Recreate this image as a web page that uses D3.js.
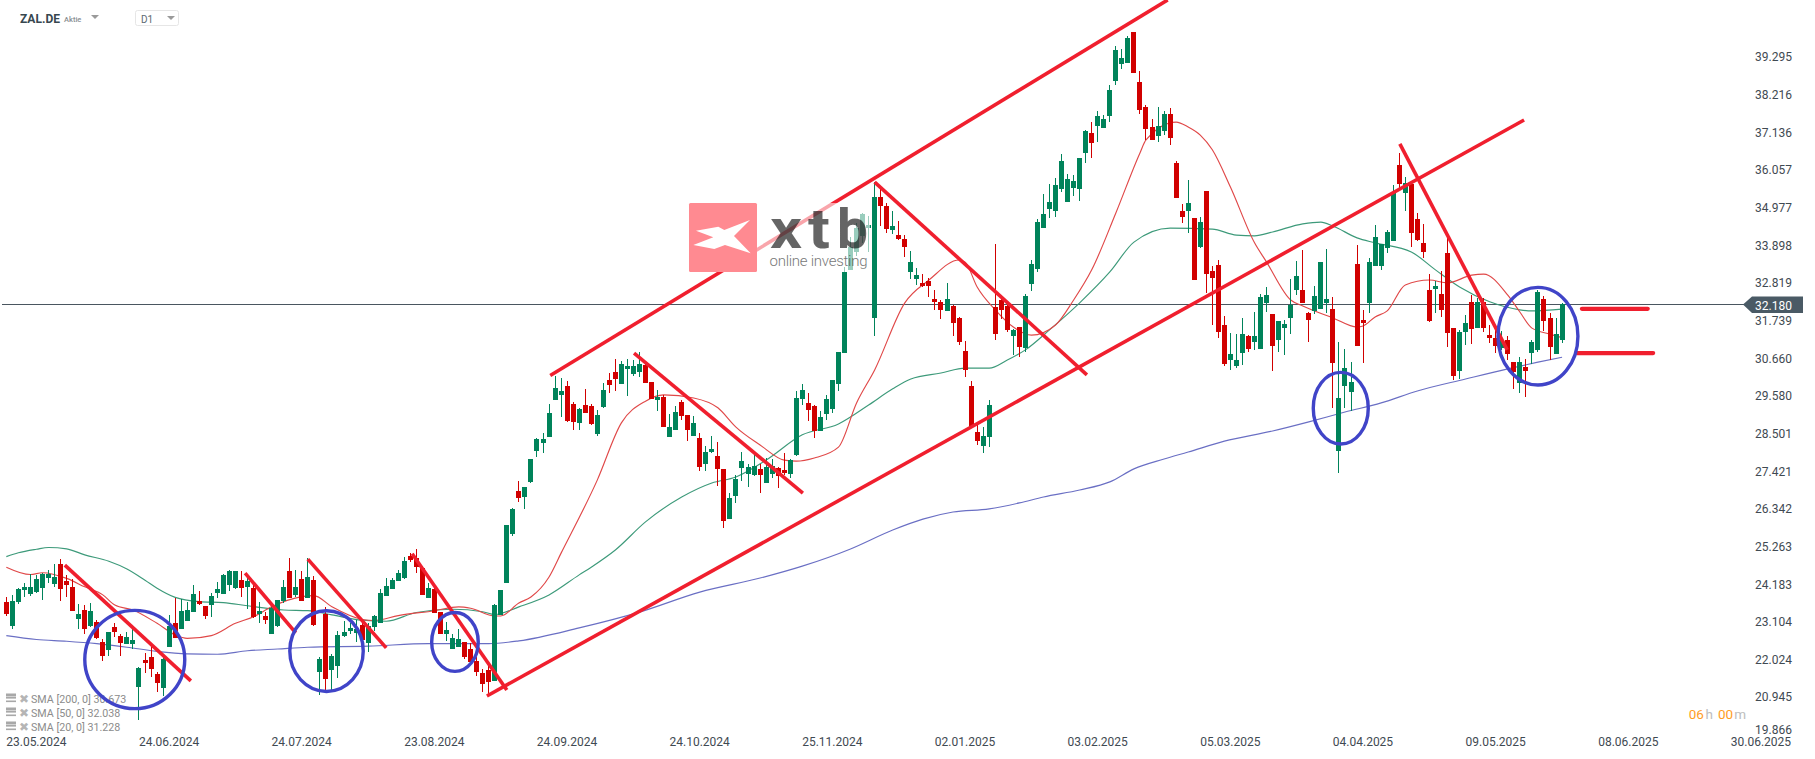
<!DOCTYPE html>
<html><head><meta charset="utf-8">
<script src="https://cdn.jsdelivr.net/npm/d3@7/dist/d3.min.js"></script>
<style>html,body{margin:0;padding:0;background:#fff;overflow:hidden}svg{display:block}text{font-family:Roboto,sans-serif}</style>
</head><body><svg id="c" width="1815" height="759"></svg>
<script>
const opens=[23.69,23.01,23.71,24.04,23.92,23.99,24.10,24.39,24.21,24.78,
24.30,24.12,23.21,23.47,23.01,23.13,22.56,22.33,22.98,22.73,
22.50,22.50,21.27,22.04,22.13,21.64,21.25,22.41,23.09,22.93,
23.17,23.41,23.73,23.58,23.61,23.95,23.92,24.18,24.10,24.32,
24.12,24.10,23.36,23.30,22.79,23.01,23.73,24.58,23.90,24.35,
23.81,24.32,21.70,23.36,21.76,21.87,22.73,22.87,22.82,23.04,
22.53,22.98,23.10,23.87,24.07,24.30,24.38,25.01,24.95,24.67,
23.81,24.07,23.41,22.79,22.36,22.41,22.56,22.36,22.02,21.67,
21.76,21.45,23.33,24.25,25.63,26.86,26.69,27.12,28.00,28.23,
28.40,29.45,29.60,29.85,29.34,28.80,29.31,29.28,28.48,29.25,
30.02,30.25,29.91,30.34,30.19,30.25,30.45,29.97,29.45,29.54,
28.40,28.60,29.40,29.03,28.43,28.37,27.63,27.97,27.86,27.49,
26.06,26.72,27.51,27.34,27.32,27.49,27.09,27.34,27.51,27.46,
27.34,27.89,29.48,29.37,29.28,28.57,29.05,29.20,29.91,30.80,
33.16,33.68,34.12,34.36,31.80,35.24,34.98,34.30,34.15,34.04,
33.10,32.90,32.79,32.84,32.33,32.24,31.99,32.13,31.79,30.85,
29.85,28.54,28.14,28.40,32.10,32.30,32.13,31.27,31.53,30.93,
32.76,33.19,34.35,34.89,34.84,35.46,35.09,35.49,35.46,36.49,
37.06,37.26,37.20,37.54,38.54,39.03,39.05,39.94,38.51,37.80,
37.23,36.97,37.12,37.60,36.20,34.84,34.84,34.64,33.81,35.41,
33.13,33.30,31.59,30.59,30.42,30.79,31.28,31.10,30.91,32.22,
31.90,31.16,31.50,31.79,32.59,32.59,31.93,31.99,32.05,32.22,
32.05,28.00,29.85,29.68,33.33,31.73,32.21,33.27,33.27,33.78,
33.98,36.15,35.35,35.61,34.61,33.92,32.59,32.61,32.47,33.64,
31.50,30.28,31.39,32.24,31.50,32.24,31.30,31.22,30.93,31.16,
30.53,29.94,30.39,30.79,30.87,32.33,31.79,30.76,31.16];
const highs=[23.85,23.90,24.11,24.23,24.49,24.47,24.53,24.61,24.78,24.91,
24.47,24.34,23.64,23.61,23.68,23.18,22.65,22.85,23.09,22.80,
22.85,22.94,21.85,22.25,22.47,21.71,22.09,23.34,23.80,23.78,
23.70,24.17,24.01,23.59,23.94,24.27,24.49,24.61,24.59,24.58,
24.37,24.18,23.71,23.42,23.58,23.75,24.32,24.94,24.61,24.59,
24.94,24.44,22.14,23.55,22.23,22.87,23.16,23.09,23.18,23.18,
23.09,23.34,24.06,24.37,24.37,24.61,24.99,25.08,25.21,24.72,
24.23,24.13,23.41,23.12,22.79,22.93,22.57,22.52,22.14,21.78,
21.90,23.64,24.04,25.89,26.37,27.14,26.97,27.77,28.36,28.50,
29.34,30.14,30.08,29.99,29.40,29.22,29.77,29.34,29.17,29.94,
30.22,30.62,30.56,30.62,30.59,30.82,30.48,29.97,29.74,29.60,
29.05,29.28,29.45,29.03,29.00,28.50,28.14,28.43,28.26,27.49,
26.79,27.32,27.97,27.63,27.91,27.63,27.80,27.77,27.55,27.94,
27.77,29.71,29.91,29.65,29.31,29.14,29.60,30.02,30.82,33.23,
34.11,34.49,34.77,34.68,35.67,35.48,35.06,34.84,34.55,34.15,
33.70,33.21,33.04,32.92,32.59,32.30,32.79,32.16,31.82,31.13,
30.00,28.73,28.68,29.45,33.90,32.35,32.21,31.47,31.54,32.47,
33.44,34.60,35.32,35.61,35.78,36.46,35.89,35.86,36.35,37.14,
37.37,37.69,37.57,38.43,39.54,39.45,39.82,39.94,38.83,37.86,
37.45,37.80,37.69,37.77,36.25,35.03,35.72,34.64,34.67,35.41,
33.27,33.44,31.84,31.36,31.33,31.79,31.30,31.96,32.47,32.67,
31.90,31.70,31.73,32.90,33.41,33.72,31.95,32.70,33.39,33.75,
32.39,31.10,30.91,30.54,33.87,32.02,33.50,34.44,33.90,34.30,
35.58,36.48,35.80,35.63,34.78,34.47,33.04,32.84,33.13,34.07,
31.50,31.45,31.87,32.44,32.35,32.35,31.59,31.45,31.41,31.27,
30.53,30.67,30.62,31.16,32.59,32.41,31.93,31.79,32.21];
const lows=[23.31,22.93,23.64,23.85,23.88,23.94,23.76,24.25,24.13,23.74,
23.85,23.44,22.92,22.79,22.98,22.65,22.02,22.16,22.71,22.16,
22.50,22.35,20.34,21.68,21.57,21.13,21.02,22.41,22.66,22.93,
23.15,23.41,23.61,23.22,23.27,23.81,23.92,24.01,24.08,23.84,
23.50,23.24,23.09,23.07,22.79,22.98,23.66,23.81,23.85,23.73,
23.81,23.01,21.05,21.19,21.17,21.52,22.71,22.79,22.55,22.61,
22.27,22.87,23.09,23.87,24.07,24.30,24.35,24.85,24.53,23.90,
23.81,23.38,22.79,22.59,22.36,22.41,22.07,21.99,21.59,21.13,
21.05,21.45,23.33,24.25,25.58,26.55,26.35,27.09,27.83,27.94,
28.40,29.45,28.97,28.83,28.60,28.60,29.08,28.74,28.43,29.23,
29.65,29.71,29.91,29.57,30.14,30.11,29.94,29.48,29.14,28.68,
28.40,28.60,28.88,28.28,28.43,27.43,27.43,27.94,27.00,25.80,
26.06,26.52,27.14,26.97,27.29,26.80,27.09,27.23,26.95,27.32,
27.23,27.86,29.31,28.85,28.37,28.57,28.88,29.08,29.71,30.80,
33.16,33.55,33.92,33.68,31.28,34.41,34.21,34.18,34.01,33.53,
32.90,32.73,32.66,32.39,32.02,31.76,31.99,31.27,31.02,30.11,
28.66,28.17,27.94,28.11,31.16,31.76,31.40,30.73,30.69,30.83,
32.57,33.10,34.35,34.64,34.67,35.37,35.09,35.26,35.12,36.19,
36.35,36.80,37.20,37.37,38.44,38.88,39.05,38.77,37.60,36.86,
36.86,36.80,37.00,36.72,35.21,34.49,34.20,32.87,33.78,32.50,
31.59,31.23,30.42,30.30,30.35,30.45,30.82,30.88,30.91,31.96,
30.28,30.82,30.73,31.33,32.44,32.22,31.10,31.90,32.05,31.93,
29.23,27.37,29.23,29.14,30.99,30.50,31.93,33.27,33.15,33.64,
33.98,35.48,34.84,33.81,33.98,33.50,31.67,31.93,31.82,30.96,
30.02,30.05,31.02,31.05,31.50,31.39,31.07,30.79,30.87,30.59,
29.77,29.65,29.54,30.48,30.82,31.42,30.59,30.76,31.07];
const closes=[23.36,23.73,24.07,24.12,24.12,24.35,24.49,24.49,24.42,24.07,
24.18,23.45,23.36,22.93,23.44,22.67,22.16,22.84,22.84,22.53,
22.70,22.61,21.82,21.96,21.80,21.39,22.07,23.01,22.67,23.44,
23.47,23.92,23.64,23.30,23.87,24.07,24.47,24.58,24.58,24.10,
24.30,23.27,23.44,23.18,23.53,23.75,24.12,23.81,24.12,23.73,
24.41,23.04,22.07,21.50,22.16,22.76,22.84,22.96,22.93,22.61,
23.01,23.30,23.95,24.15,24.32,24.52,24.87,24.89,24.69,23.90,
24.10,23.38,22.79,22.90,22.67,22.64,22.13,21.99,21.70,21.36,
21.42,23.61,24.04,25.89,26.35,26.66,26.97,27.77,28.34,28.34,
29.08,29.79,29.71,28.85,28.83,29.20,29.08,28.77,29.03,29.74,
29.88,30.05,30.48,30.42,30.42,30.48,29.94,29.48,29.54,28.68,
28.68,29.11,29.00,28.60,28.80,27.54,27.97,28.06,27.49,26.00,
26.66,27.20,27.71,27.54,27.57,27.32,27.54,27.57,27.29,27.37,
27.74,29.51,29.74,29.17,28.57,28.97,29.48,30.02,30.82,33.11,
33.82,34.34,34.74,34.44,35.24,34.98,34.32,34.41,34.04,33.81,
33.38,33.01,32.70,32.70,32.24,32.02,32.33,31.65,31.10,30.31,
28.68,28.28,28.43,29.31,31.33,32.02,31.45,31.45,30.96,32.41,
33.33,34.52,34.75,35.09,35.58,36.26,35.75,35.69,36.35,37.12,
36.77,37.54,37.46,38.28,39.42,39.20,39.77,38.77,37.71,37.17,
36.86,37.26,37.60,36.92,35.21,34.67,35.06,32.87,34.52,33.04,
32.93,31.39,30.48,30.76,30.59,31.33,30.91,31.28,32.39,32.44,
30.99,31.70,31.62,32.16,32.99,32.22,31.73,32.42,33.39,32.33,
30.51,29.51,30.36,29.97,30.99,31.65,33.38,34.10,33.90,34.24,
35.35,35.61,35.63,34.21,34.01,33.67,31.70,32.70,32.02,31.36,
30.13,31.39,31.65,31.47,32.24,31.50,31.22,30.99,31.16,30.76,
30.26,30.53,30.28,31.10,32.53,31.70,30.96,31.33,32.18];

// moving averages, read at the bars listed in the *Bars arrays
const sma200Bars=[0,5,10,15,20,25,30,35,40,45,50,60,70,80,85,95,105,115,125,132,140,147,152,157,163,168,172,178,183,187,192,196,202,210,216,222,228,234,242,249,254,258];
const sma200Vals=[22.74,22.63,22.58,22.51,22.41,22.29,22.22,22.21,22.31,22.36,22.41,22.44,22.51,22.51,22.59,22.96,23.41,23.98,24.38,24.72,25.21,25.75,26.06,26.26,26.35,26.52,26.69,26.89,27.12,27.49,27.77,27.97,28.28,28.57,28.83,29.11,29.37,29.71,30.05,30.34,30.53,30.67];
const sma50Bars=[0,2,5,7,10,13,17,20,23,25,28,32,36,40,46,50,54,59,63,68,74,79,81,85,90,95,97,101,106,112,117,121,126,132,138,143,147,150,155,159,163,166,169,173,178,183,187,193,200,204,207,210,215,218,220,224,227,233,237,241,246,251,253,258];
const sma50Vals=[24.99,25.10,25.20,25.25,25.21,25.04,24.86,24.64,24.32,24.09,23.83,23.71,23.68,23.59,23.47,23.45,23.33,23.18,23.15,23.40,23.49,23.42,23.34,23.56,23.90,24.47,24.69,25.18,25.98,26.69,27.09,27.26,27.74,28.46,28.77,29.31,29.77,30.05,30.22,30.36,30.36,30.59,30.88,31.45,32.22,33.10,33.95,34.35,34.32,34.15,34.13,34.24,34.47,34.52,34.41,34.07,33.93,33.67,33.16,32.67,32.25,32.02,31.99,32.04];
const sma20Bars=[0,4,6,10,13,16,18,21,25,28,30,34,38,41,44,49,51,54,59,61,65,71,75,77,81,82,85,87,90,92,98,102,106,109,114,118,121,125,129,131,134,138,141,144,149,153,158,159,161,164,167,170,174,177,180,184,188,189,194,196,198,200,203,207,209,213,215,220,224,225,227,229,232,236,239,243,245,249,251,253,256,258];
const sma20Vals=[24.69,24.48,24.53,24.37,24.13,23.90,23.61,23.47,23.09,22.76,22.66,22.74,23.09,23.28,23.56,23.85,23.88,23.56,23.20,23.17,23.31,23.45,23.56,23.52,23.30,23.30,23.67,23.84,24.41,25.09,27.17,28.80,29.42,29.60,29.51,29.23,28.68,28.17,27.74,27.71,27.80,28.11,29.37,30.31,32.22,32.87,33.44,33.38,32.67,32.02,31.53,31.30,31.59,32.30,33.16,34.78,36.49,36.86,37.37,37.23,37.00,36.58,35.52,33.93,33.38,32.30,32.13,31.79,31.53,31.56,31.82,31.99,32.73,32.87,32.79,33.01,33.04,32.44,31.96,31.50,31.33,31.23];

const priceTicks=[39.295,38.216,37.136,36.057,34.977,33.898,32.819,31.739,30.660,29.580,28.501,27.421,26.342,25.263,24.183,23.104,22.024,20.945,19.866];
const dateBars=[0,22,44,66,88,110,132,154,176,198,220,242,264,286];
const dateLabels=["23.05.2024","24.06.2024","24.07.2024","23.08.2024","24.09.2024","24.10.2024","25.11.2024","02.01.2025","03.02.2025","05.03.2025","04.04.2025","09.05.2025","08.06.2025","30.06.2025"];
const lastPrice=32.18;

// hand-drawn annotations, in bar number and price
const trendBar1=[90.2,79.7,9.7,39.6,50,67.3,104.1,144,231.1,261.3,260.5];
const trendVal1=[30.15,21.02,24.75,24.52,24.92,25.07,30.79,35.66,36.75,32.05,30.79];
const trendBar2=[192.6,251.7,30.6,48,63,83,132.1,179.2,248.9,272.2,273.1];
const trendVal2=[40.85,37.43,21.45,22.82,22.39,21.19,26.80,30.17,30.88,32.05,30.79];
const trendBold=[0,0,0,0,0,0,0,0,0,1,1];
const ringBar=[21.3,53.1,74.4,221.3,254];
const ringVal=[22.06,22.30,22.56,29.22,31.27];
const ringBarR=[8.29,6.09,3.86,4.56,6.63];
const ringValR=[1.40,1.15,0.84,1.02,1.39];

const legendNames=["SMA [200, 0] 30.673","SMA [50, 0] 32.038","SMA [20, 0] 31.228"];

const x=d3.scaleLinear().domain([0,258]).range([6.33,1562.07]);
const y=d3.scaleLinear().domain([19.866,39.295]).range([736.5,54.5]);
// the label column of the reference runs at 34.89 px per unit
const yLabels=d3.scaleLinear().domain([19.866,39.295]).range([734.3,56.4]);
const svg=d3.select("#c");
const textCol="#3f4a52", upCol="#00835a", dnCol="#d10000";

// axes
const yAxis=d3.axisRight(yLabels).tickValues(priceTicks).tickSize(0).tickPadding(0).tickFormat(d3.format(".3f"));
const gy=svg.append("g").attr("transform","translate(1755,0)").call(yAxis);
gy.select(".domain").remove();
gy.selectAll("text").attr("font-size",12).attr("fill",textCol).attr("font-family","Roboto").attr("dy","0.36em");
gy.selectAll(".tick").filter(d=>d===19.866).attr("transform","translate(0,730)");

const xAxis=d3.axisBottom(x).tickValues(dateBars).tickSize(0).tickPadding(0).tickFormat((d,i)=>dateLabels[i]);
const gx=svg.append("g").attr("transform","translate(-0.6,737)").call(xAxis);
gx.select(".domain").remove();
gx.selectAll("text").attr("font-size",12).attr("fill",textCol).attr("font-family","Roboto").attr("text-anchor","start").attr("dy","0.71em").attr("y",0);

// last price line
svg.append("line").attr("x1",2).attr("x2",1744).attr("y1",Math.round(y(lastPrice))+.5).attr("y2",Math.round(y(lastPrice))+.5).attr("stroke","#4a5660").attr("stroke-width",1.2);

// legend (below annotations)
const leg=svg.append("g");
legendNames.forEach((t,k)=>{
  const yy=699.5+k*14;
  const g=leg.append("g");
  [-6,-2.5,1].forEach((o,j)=>g.append("rect").attr("x",6).attr("y",yy+o).attr("width",10).attr("height",j==0?3:1.6).attr("fill","#a8a8a8"));
  g.append("text").attr("x",18.5).attr("y",yy+3).attr("font-size",12).attr("font-family","DejaVu Sans").attr("fill","#b5b5b5").text("✖");
  leg.append("text").attr("x",31).attr("y",yy+3.8).attr("font-size",10.7).attr("fill","#8c8c8c").text(t);
});

// SMA lines
function sma(bars,vals,col){
  const line=d3.line().x(d=>x(d[0])).y(d=>y(d[1])).curve(d3.curveMonotoneX);
  svg.append("path").attr("d",line(bars.map((b,i)=>[b,vals[i]]))).attr("fill","none").attr("stroke",col).attr("stroke-width",1.15);
}
sma(sma200Bars,sma200Vals,"#6a6fc4");
sma(sma50Bars,sma50Vals,"#3d9a7a");
sma(sma20Bars,sma20Vals,"#e04848");

// candles
const cg=svg.append("g").attr("shape-rendering","crispEdges");
const cx=i=>Math.floor(x(i))+.5;
const idx=d3.range(closes.length);
cg.selectAll("rect.w").data(idx).join("rect").attr("class","w")
 .attr("x",i=>cx(i)-.5).attr("width",1).attr("y",i=>y(highs[i])).attr("height",i=>Math.max(1,y(lows[i])-y(highs[i])))
 .attr("fill",i=>closes[i]>=opens[i]?upCol:dnCol);
cg.selectAll("rect.b").data(idx).join("rect").attr("class","b")
 .attr("x",i=>cx(i)-2.5).attr("width",5).attr("y",i=>y(Math.max(opens[i],closes[i]))).attr("height",i=>Math.max(1,Math.abs(y(opens[i])-y(closes[i]))))
 .attr("fill",i=>closes[i]>=opens[i]?upCol:dnCol);

// annotations
trendBar1.forEach((b,i)=>{
  svg.append("line").attr("x1",x(b)).attr("y1",y(trendVal1[i])).attr("x2",x(trendBar2[i])).attr("y2",y(trendVal2[i]))
   .attr("stroke","#f01f2e").attr("stroke-width",trendBold[i]?4.3:3.6).attr("stroke-linecap",trendBold[i]?"round":"butt");
});
ringBar.forEach((b,i)=>{
  svg.append("ellipse").attr("cx",x(b)).attr("cy",y(ringVal[i])).attr("rx",x(ringBarR[i])-x(0)).attr("ry",y(0)-y(ringValR[i]))
   .attr("fill","none").attr("stroke","#4044c8").attr("stroke-width",3.4);
});

// price tag
svg.append("path").attr("d","M1743 304.5L1752 296.5H1803V313H1752Z").attr("fill","#4a5a65");
svg.append("text").attr("x",1755).attr("y",309.5).attr("font-size",12).attr("fill","#fff").text("32.180");

// countdown
const cd=svg.append("g").attr("font-size",13.5);
[["06",1688.7,"#ff9d1f"],["h",1705.5,"#bdbdbd"],["00",1718,"#ff9d1f"],["m",1734.3,"#bdbdbd"]].forEach(a=>
  cd.append("text").attr("x",a[1]).attr("y",719).attr("fill",a[2]).text(a[0]));

// header
svg.append("text").attr("x",20).attr("y",22.5).attr("font-size",12).attr("font-weight",700).attr("fill","#37474f").text("ZAL.DE");
svg.append("text").attr("x",64).attr("y",22).attr("font-size",7.5).attr("font-weight",500).attr("fill","#8a8f93").text("Aktie");
svg.append("path").attr("d","M91 15h8l-4 4z").attr("fill","#9a9a9a");
svg.append("rect").attr("x",135.5).attr("y",10.5).attr("width",43).attr("height",15).attr("rx",2).attr("fill","#fff").attr("stroke","#e6e6e6");
svg.append("text").attr("x",141).attr("y",23).attr("font-size",10).attr("fill","#5d6a72").text("D1");
svg.append("path").attr("d","M167 16h8l-4 4z").attr("fill","#9a9a9a");

// watermark
const wm=svg.append("g");
wm.append("rect").attr("x",757).attr("y",203).attr("width",113).attr("height",69).attr("fill","#fff").attr("opacity",.6);
wm.append("rect").attr("x",689).attr("y",203).attr("width",68).attr("height",69).attr("rx",1.5).attr("fill","#ff8a91");
wm.append("polygon").attr("transform","translate(660,180) scale(0.3333)").attr("fill","#fff")
  .attr("points","108,152 175,140 193,150 270,120 222,168 272,220 195,195 163,207 100,195 160,172");
const wl=wm.append("g").attr("opacity",.6).attr("font-family","DejaVu Sans").attr("font-weight",700).attr("font-size",56).attr("fill","#000");
[["x",770,32],["t",808,22],["b",837,31]].forEach(a=>wl.append("text").attr("x",a[1]).attr("y",248).attr("font-family","DejaVu Sans").attr("textLength",a[2]).attr("lengthAdjust","spacingAndGlyphs").text(a[0]));
wm.append("text").attr("x",769.5).attr("y",265.5).attr("font-size",15).attr("font-weight",300).attr("fill","#000").attr("opacity",.55).attr("textLength",98).text("online investing");
</script></body></html>
